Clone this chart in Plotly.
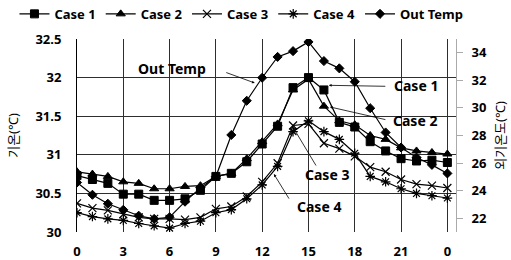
import plotly.graph_objects as go

hours = list(range(25))
tick_vals = [0, 3, 6, 9, 12, 15, 18, 21, 24]
tick_text = ["0", "3", "6", "9", "12", "15", "18", "21", "0"]

case1 = [30.73, 30.68, 30.63, 30.49, 30.49, 30.41, 30.41, 30.43, 30.54, 30.72, 30.76, 30.91, 31.14,
         31.37, 31.87, 32.00, 31.84, 31.42, 31.36, 31.17, 31.05, 30.95, 30.92, 30.93, 30.90]
case2 = [30.78, 30.75, 30.72, 30.65, 30.63, 30.56, 30.56, 30.59, 30.60, 30.72, 30.76, 30.95, 31.17,
         31.40, 31.84, 31.98, 31.63, 31.44, 31.39, 31.25, 31.20, 31.09, 31.05, 31.03, 31.01]
case3 = [30.37, 30.31, 30.28, 30.23, 30.19, 30.17, 30.17, 30.16, 30.19, 30.30, 30.33, 30.46, 30.65,
         30.89, 31.38, 31.40, 31.15, 31.08, 30.98, 30.84, 30.78, 30.68, 30.62, 30.60, 30.57]
case4 = [30.25, 30.20, 30.17, 30.15, 30.11, 30.08, 30.05, 30.11, 30.14, 30.25, 30.29, 30.43, 30.61,
         30.85, 31.30, 31.44, 31.30, 31.20, 31.02, 30.72, 30.65, 30.56, 30.50, 30.47, 30.44]
out_temp = [24.59, 23.70, 23.05, 22.61, 22.18, 21.95, 22.07, 23.20, 24.20, 25.02, 28.04, 30.52, 32.19,
            33.70, 34.12, 34.79, 33.40, 32.87, 31.90, 29.98, 28.22, 27.13, 26.40, 25.87, 25.25]

FONT = "Noto Sans, Noto Sans CJK KR, DejaVu Sans"

fig = go.Figure()

def add(name, y, symbol, size, axis="y", lw=1.0):
    fig.add_trace(go.Scatter(
        x=hours, y=y, name=name, yaxis=axis, mode="lines+markers",
        line=dict(color="black", width=1.2),
        marker=dict(symbol=symbol, size=size, color="black",
                    line=dict(color="black", width=lw)),
    ))

add("Case 1", case1, "square", 8)
add("Case 2", case2, "triangle-up", 8)
add("Case 3", case3, "x-thin-open", 8, lw=1.2)
add("Case 4", case4, "asterisk-open", 8, lw=1.2)
add("Out Temp", out_temp, "diamond", 7, axis="y2")

grid = "#2e2e2e"
fig.update_layout(
    width=511, height=260,
    margin=dict(l=77, r=55, t=39, b=28, autoexpand=False),
    paper_bgcolor="white", plot_bgcolor="white",
    font=dict(family=FONT, color="black", size=13),
    showlegend=True,
    legend=dict(orientation="h", x=-0.165, xanchor="left", y=1.13, yanchor="middle",
                font=dict(size=13, weight="bold"), itemwidth=30, tracegroupgap=0,
                bgcolor="rgba(0,0,0,0)"),
    xaxis=dict(range=[0, 24.56], tickvals=tick_vals, ticktext=tick_text,
               showgrid=True, gridcolor=grid, gridwidth=1, zeroline=False,
               showline=False, ticks="", ticklabelstandoff=10,
               tickfont=dict(size=13, weight="bold")),
    yaxis=dict(range=[30, 32.5], dtick=0.5, showgrid=True, gridcolor=grid, gridwidth=1,
               zeroline=False, showline=True, linecolor="black", linewidth=1,
               ticks="", ticklabelstandoff=12,
               tickfont=dict(size=13, weight="bold"),
               title=dict(text="기온(℃)", font=dict(size=13), standoff=13)),
    yaxis2=dict(range=[21, 35], dtick=2, overlaying="y", side="right", showgrid=False,
                zeroline=False, showline=True, linecolor="#aaaaaa", linewidth=1,
                ticks="outside", ticklen=6, tickcolor="#aaaaaa",
                ticklabelstandoff=6, tickfont=dict(size=13, weight="bold"),
                title=dict(text="외기온도(℃)", font=dict(size=13), standoff=9)),
)

ann_font = dict(size=14, weight="bold", color="black", family=FONT)
labels = [
    ("Out Temp", 6.14, 32.12),
    ("Case 1", 21.97, 31.90),
    ("Case 2", 21.90, 31.44),
    ("Case 3", 16.19, 30.75),
    ("Case 4", 15.67, 30.33),
]
for txt, x, y in labels:
    fig.add_annotation(x=x, y=y, xref="x", yref="y", text=txt, showarrow=False, font=ann_font)

arrows = [
    (11.52, 31.93, -30, -11),
    (16.32, 31.90, 58, 1),
    (16.39, 31.62, 57, 13),
    (13.99, 31.36, 24, 40),
    (12.76, 30.75, 16, 26),
]
for x, y, ax, ay in arrows:
    fig.add_annotation(x=x, y=y, xref="x", yref="y", ax=ax, ay=ay, text="",
                       showarrow=True, arrowhead=2, arrowsize=0.7, arrowwidth=0.8,
                       arrowcolor="black")

fig.write_html("out.html", config={"displayModeBar": False},
               post_script="document.body.style.margin='0';")
